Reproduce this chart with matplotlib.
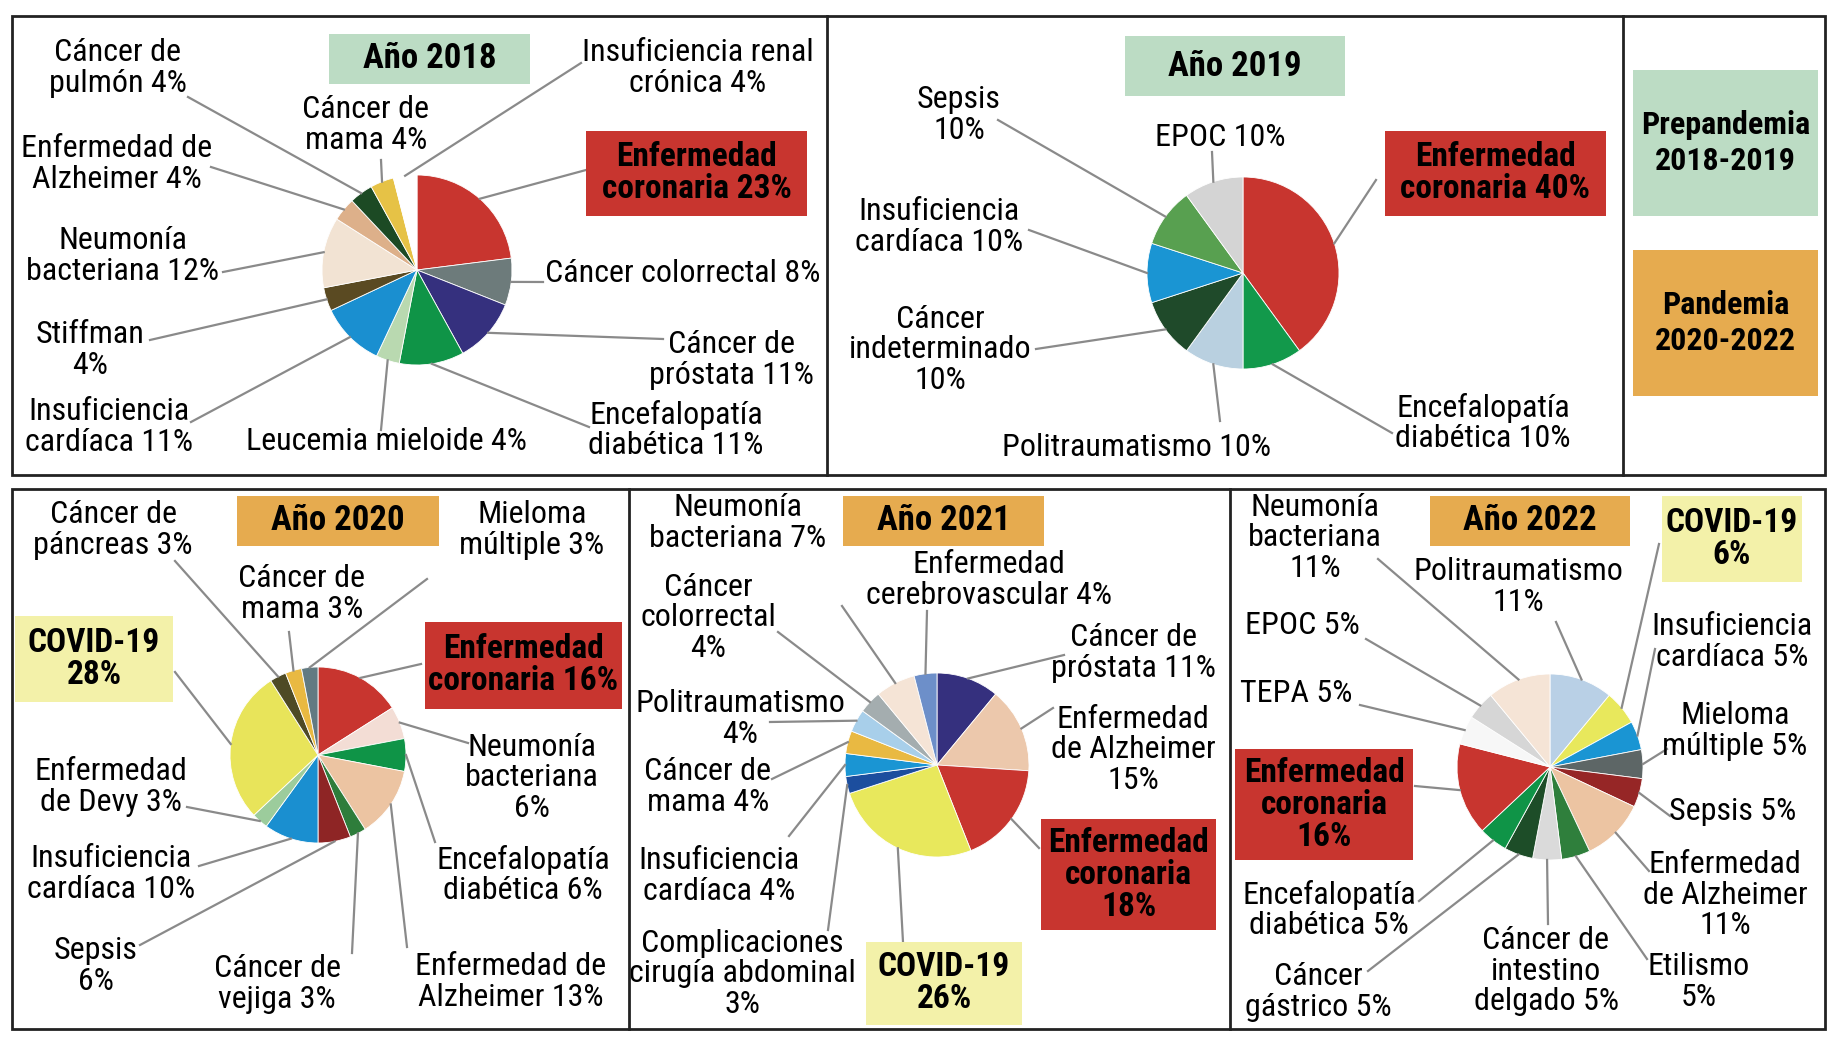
import matplotlib
matplotlib.use('Agg')
import matplotlib.pyplot as plt
from matplotlib.patches import Rectangle
from matplotlib import font_manager
import numpy as np

# ---- datos ----
names_2018 = ['Enfermedad\ncoronaria', 'Cáncer colorrectal', 'Cáncer de\npróstata', 'Encefalopatía\ndiabética',
              'Leucemia mieloide', 'Insuficiencia\ncardíaca', 'Stiffman\n', 'Neumonía\nbacteriana',
              'Enfermedad de\nAlzheimer', 'Cáncer de\npulmón', 'Cáncer de\nmama', 'Insuficiencia renal\ncrónica']
vals_2018 = [23, 8, 11, 11, 4, 11, 4, 12, 4, 4, 4, 4]

names_2019 = ['Enfermedad\ncoronaria', 'Encefalopatía\ndiabética', 'Politraumatismo', 'Cáncer\nindeterminado\n',
              'Insuficiencia\ncardíaca', 'Sepsis\n', 'EPOC']
vals_2019 = [40, 10, 10, 10, 10, 10, 10]

names_2020 = ['Enfermedad\ncoronaria', 'Neumonía\nbacteriana\n', 'Encefalopatía\ndiabética', 'Enfermedad de\nAlzheimer',
              'Cáncer de\nvejiga', 'Sepsis\n', 'Insuficiencia\ncardíaca', 'Enfermedad\nde Devy', 'COVID-19\n',
              'Cáncer de\npáncreas', 'Cáncer de\nmama', 'Mieloma\nmúltiple']
vals_2020 = [16, 6, 6, 13, 3, 6, 10, 3, 28, 3, 3, 3]

names_2021 = ['Cáncer de\npróstata', 'Enfermedad\nde Alzheimer\n', 'Enfermedad\ncoronaria\n', 'COVID-19\n',
              'Complicaciones\ncirugía abdominal\n', 'Insuficiencia\ncardíaca', 'Cáncer de\nmama', 'Politraumatismo\n',
              'Cáncer\ncolorrectal\n', 'Neumonía\nbacteriana', 'Enfermedad\ncerebrovascular']
vals_2021 = [11, 15, 18, 26, 3, 4, 4, 4, 4, 7, 4]

names_2022 = ['Politraumatismo\n', 'COVID-19\n', 'Insuficiencia\ncardíaca', 'Mieloma\nmúltiple', 'Sepsis',
              'Enfermedad\nde Alzheimer\n', 'Etilismo\n', 'Cáncer de\nintestino\ndelgado', 'Cáncer\ngástrico',
              'Encefalopatía\ndiabética', 'Enfermedad\ncoronaria\n', 'TEPA', 'EPOC', 'Neumonía\nbacteriana\n']
vals_2022 = [11, 6, 5, 5, 5, 11, 5, 5, 5, 5, 16, 5, 5, 11]

# ---- colores ----
RED = '#c8352f'
GREEN_BOX = '#bcdcc4'
ORANGE_BOX = '#e6ab4f'
YELLOW_BOX = '#f3f1a9'

colors_2018 = [RED, '#6d7b7b', '#35307e', '#0f9447', '#b9d9b0', '#1a8fd0', '#5a4a22', '#f2e3d3',
               '#ddb08a', '#1c4a24', '#e6c246', '#ffffff']
colors_2019 = [RED, '#12994b', '#b9d0e0', '#1f4a2a', '#1a95d3', '#58a050', '#d4d4d4']
colors_2020 = [RED, '#f3ddd5', '#0f9447', '#ecc4a2', '#2e7d3b', '#8e2525', '#1a8fd0', '#9ccc9c',
               '#e8e45a', '#4e4a25', '#e9b942', '#627a82']
colors_2021 = ['#35307e', '#ecc8ac', RED, '#e8e85c', '#1c4e9e', '#1a95d3', '#e9b942', '#a8cfea',
               '#a4adaf', '#f5e4d6', '#6d8fc9']
colors_2022 = ['#b9d0e6', '#e8e85c', '#1a95d3', '#5d6666', '#962626', '#ecc4a2', '#2f7f3c', '#dadada',
               '#1d4d28', '#0f9447', RED, '#f7f7f7', '#d6d6d6', '#f5e4d6']

# ---- posiciones (pixeles de la imagen) ----
pos_2018 = [(696, 173), (683, 273), (731, 360), (676, 430), (386, 442), (109, 427), (90, 350),
            (123, 256), (117, 164), (118, 68), (366, 125), (698, 68)]
tips_2018 = [(586, 170), (543, 282), (663, 339), (589, 427), (381, 430), (191, 422), (150, 340),
             (223, 272), (211, 167), (188, 97), (381, 160), (581, 63)]
boxes_2018 = {0: (RED, 586, 131, 221, 85)}

pos_2019 = [(1495, 173), (1483, 423), (1137, 448), (940, 350), (939, 227), (959, 115), (1220, 137)]
tips_2019 = [(1376, 180), (1392, 433), (1220, 421), (1036, 349), (1029, 230), (998, 120), (1212, 152)]
boxes_2019 = {0: (RED, 1385, 131, 221, 85)}

pos_2020 = [(523, 665), (532, 778), (523, 875), (511, 982), (277, 984), (96, 966), (111, 874),
            (111, 787), (94, 659), (113, 530), (302, 594), (532, 530)]
tips_2020 = [(421, 664), (468, 743), (435, 842), (407, 947), (352, 953), (140, 945), (199, 866),
             (187, 807), (175, 672), (175, 561), (289, 632), (427, 579)]
boxes_2020 = {0: (RED, 425, 622, 197, 87), 8: (YELLOW_BOX, 15, 616, 158, 86)}

pos_2021 = [(1133, 653), (1133, 750), (1128, 875), (944, 983), (742, 974), (719, 876), (708, 787),
            (740, 719), (708, 618), (738, 523), (989, 580)]
tips_2021 = [(1064, 655), (1053, 708), (1039, 848), (903, 942), (828, 930), (789, 836), (772, 779),
             (770, 722), (778, 632), (842, 606), (927, 611)]
boxes_2021 = {2: (RED, 1041, 819, 175, 111), 3: (YELLOW_BOX, 866, 942, 156, 83)}

pos_2022 = [(1518, 587), (1732, 539), (1732, 642), (1735, 731), (1733, 812), (1725, 895), (1699, 982),
            (1546, 971), (1318, 992), (1329, 910), (1324, 804), (1296, 694), (1302, 626), (1315, 538)]
tips_2022 = [(1556, 622), (1659, 544), (1655, 649), (1667, 749), (1670, 816), (1649, 871), (1647, 959),
             (1548, 924), (1368, 971), (1419, 901), (1415, 786), (1360, 705), (1366, 639), (1378, 559)]
boxes_2022 = {10: (RED, 1235, 749, 178, 111), 1: (YELLOW_BOX, 1662, 496, 140, 86)}

# ---- fuente: una condensada si existe ----
installed = {f.name for f in font_manager.fontManager.ttflist}
FONT, FS = 'DejaVu Sans', 18
for name, size in [('Liberation Sans Narrow', 23), ('Roboto Condensed', 23), ('DejaVu Sans Condensed', 20),
                   ('Roboto', 20), ('Liberation Sans', 19)]:
    if name in installed:
        FONT, FS = name, size
        break
plt.rcParams['font.family'] = [FONT, 'DejaVu Sans']
BOX_FS = FS + 1
YEAR_FS = FS + 2
LEG_FS = FS

W, H = 1834, 1040
fig = plt.figure(figsize=(W / 100, H / 100), dpi=100)
ax = fig.add_axes([0, 0, 1, 1])


def label_text(name, v):
    if name.endswith('\n'):
        return name + '%d%%' % v
    return name + ' %d%%' % v


def box(x, y, w, h, color, text, size, ls=1.0):
    ax.add_patch(Rectangle((x, y), w, h, facecolor=color, edgecolor='none', zorder=2))
    ax.text(x + w / 2, y + h / 2, text, ha='center', va='center', fontsize=size,
            fontweight='bold', linespacing=ls, zorder=3)


def draw_pie(cx, cy, r, vals, colors, names, pos, tips, boxes):
    wedges, _ = ax.pie(vals, colors=colors, center=(cx, cy), radius=r, startangle=270,
                       counterclock=True, frame=True,
                       wedgeprops=dict(edgecolor='white', linewidth=0.6))
    for i, w in enumerate(wedges):
        ang = np.deg2rad((w.theta1 + w.theta2) / 2)
        sx = cx + r * np.cos(ang)
        sy = cy + r * np.sin(ang)
        ax.plot([sx, tips[i][0]], [sy, tips[i][1]], color='#8a8a8a', lw=1.6, zorder=1)
        txt = label_text(names[i], vals[i])
        if i in boxes:
            c, bx, by, bw, bh = boxes[i]
            box(bx, by, bw, bh, c, txt, BOX_FS)
        else:
            ax.text(pos[i][0], pos[i][1], txt, ha='center', va='center', fontsize=FS,
                    linespacing=1.08, zorder=3)


draw_pie(417, 270, 95, vals_2018, colors_2018, names_2018, pos_2018, tips_2018, boxes_2018)
draw_pie(1243, 273, 96, vals_2019, colors_2019, names_2019, pos_2019, tips_2019, boxes_2019)
draw_pie(318, 755, 88, vals_2020, colors_2020, names_2020, pos_2020, tips_2020, boxes_2020)
draw_pie(937, 765, 92, vals_2021, colors_2021, names_2021, pos_2021, tips_2021, boxes_2021)
draw_pie(1550, 767, 93, vals_2022, colors_2022, names_2022, pos_2022, tips_2022, boxes_2022)

# titulos de año
box(329, 34, 201, 50, GREEN_BOX, 'Año 2018', YEAR_FS)
box(1125, 36, 220, 60, GREEN_BOX, 'Año 2019', YEAR_FS)
box(237, 496, 202, 50, ORANGE_BOX, 'Año 2020', YEAR_FS)
box(843, 496, 201, 50, ORANGE_BOX, 'Año 2021', YEAR_FS)
box(1430, 496, 200, 50, ORANGE_BOX, 'Año 2022', YEAR_FS)

# leyenda
box(1633, 70, 185, 146, GREEN_BOX, 'Prepandemia\n2018-2019', LEG_FS, 1.25)
box(1633, 250, 185, 146, ORANGE_BOX, 'Pandemia\n2020-2022', LEG_FS, 1.25)

# marcos
ax.add_patch(Rectangle((12, 16), 1813, 459, fill=False, edgecolor='#222222', lw=2, zorder=4))
ax.add_patch(Rectangle((12, 489), 1813, 540, fill=False, edgecolor='#222222', lw=2, zorder=4))
for x in [827, 1623]:
    ax.plot([x, x], [16, 475], color='#222222', lw=2, zorder=4)
for x in [629, 1230]:
    ax.plot([x, x], [489, 1029], color='#222222', lw=2, zorder=4)

ax.set_aspect('auto')
ax.set_xlim(0, W)
ax.set_ylim(H, 0)
ax.axis('off')
fig.savefig('out.png', dpi=100, facecolor='white')
